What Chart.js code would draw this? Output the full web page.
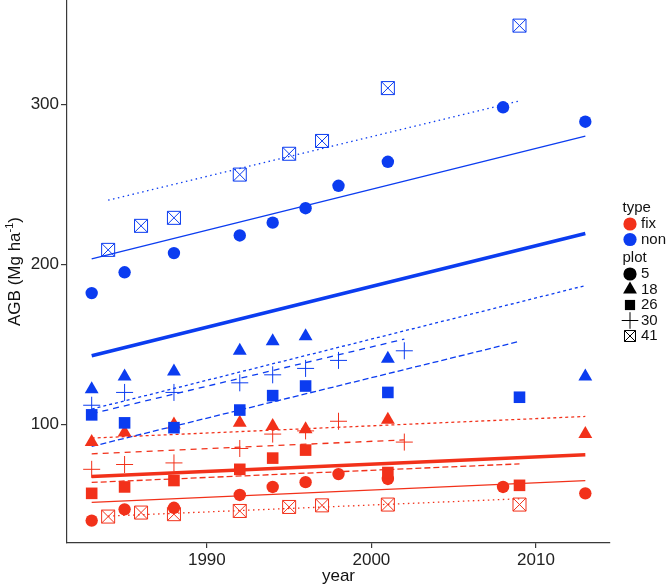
<!DOCTYPE html>
<html>
<head>
<meta charset="utf-8">
<script src="https://cdn.jsdelivr.net/npm/chart.js@4.4.1/dist/chart.umd.min.js"></script>
<style>
  html, body { margin: 0; padding: 0; background: #fff; }
  #wrap { width: 666px; height: 586px; position: relative; }
</style>
</head>
<body>
<div id="wrap"><canvas id="agb"></canvas></div>
<script>
// --- data (year, AGB in Mg/ha) ---
const xTicks = [1990, 2000, 2010];
const yTicks = [100, 200, 300];

// non-fixer plots (blue)
const non5Years = [1983, 1985, 1988, 1992, 1994, 1996, 1998, 2001, 2008, 2013];
const non5 = [182, 195, 207, 218, 226, 235, 249, 264, 298, 289];
const non18Years = [1983, 1985, 1988, 1992, 1994, 1996, 2001, 2013];
const non18 = [122, 130, 133, 146, 152, 155, 141, 130];
const non26Years = [1983, 1985, 1988, 1992, 1994, 1996, 2001, 2009];
const non26 = [106, 101, 98, 109, 118, 124, 120, 117];
const non30Years = [1983, 1985, 1988, 1992, 1994, 1996, 1998, 2002];
const non30 = [112, 120, 120, 126, 131, 135, 140, 146];
const non41Years = [1984, 1986, 1988, 1992, 1995, 1997, 2001, 2009];
const non41 = [209, 224, 229, 256, 269, 277, 310, 349];

// fixer plots (red)
const fix5Years = [1983, 1985, 1988, 1992, 1994, 1996, 1998, 2001, 2008, 2013];
const fix5 = [40, 47, 48, 56, 61, 64, 69, 66, 61, 57];
const fix18Years = [1983, 1985, 1988, 1992, 1994, 1996, 2001, 2013];
const fix18 = [89, 95, 100, 101, 99, 97, 103, 94];
const fix26Years = [1983, 1985, 1988, 1992, 1994, 1996, 2001, 2009];
const fix26 = [57, 61, 65, 72, 79, 84, 70, 62];
const fix30Years = [1983, 1985, 1988, 1992, 1994, 1996, 1998, 2002];
const fix30 = [72, 75, 76, 85, 94, 96, 102, 89];
const fix41Years = [1984, 1986, 1988, 1992, 1995, 1997, 2001, 2009];
const fix41 = [42.5, 45, 44, 46, 48.5, 49.5, 50, 50];

// fitted trend lines (start / end values)
const fitNon5 = [203.4, 280], fitNon5Years = [1983, 2013];
const fitNon18 = [109.6, 186.7], fitNon18Years = [1983, 2013];
const fitNon26 = [86.3, 151.9], fitNon26Years = [1983, 2009];
const fitNon30 = [106.7, 153.3], fitNon30Years = [1983, 2002];
const fitNon41 = [240, 302], fitNon41Years = [1984, 2009];
const fitNonAll = [142.9, 219.2], fitNonAllYears = [1983, 2013];
const fitFix5 = [51.3, 65], fitFix5Years = [1983, 2013];
const fitFix18 = [91.5, 105], fitFix18Years = [1983, 2013];
const fitFix26 = [63.8, 75.4], fitFix26Years = [1983, 2009];
const fitFix30 = [81.7, 90.4], fitFix30Years = [1983, 2002];
const fitFix41 = [42.8, 53.6], fitFix41Years = [1984, 2009];
const fitFixAll = [67.5, 81.1], fitFixAllYears = [1983, 2013];

const RED = "#f2311a";
const BLUE = "#0b3cf0";
const FONT = "'Liberation Sans', Arial, Helvetica, sans-serif";

function pts(xs, ys) {
  return xs.map((x, i) => ({ x, y: ys[i] }));
}

// marker look per plot
const shapes = {
  p5: { style: "circle", r: 6.2, fill: true, bw: 0 },
  p18: { style: "triangle", r: 8, fill: true, bw: 0 },
  p26: { style: "rect", r: 8.2, fill: true, bw: 0 },
  p30: { style: "cross", r: 8.5, fill: false, bw: 1 },
  p41: { style: "rect", r: 9.2, fill: false, bw: 1 },
  p41x: { style: "crossRot", r: 9.2, fill: false, bw: 1 },
};

function marks(years, vals, color, sh) {
  return {
    data: pts(years, vals),
    showLine: false,
    pointStyle: sh.style,
    pointRadius: sh.r,
    pointHoverRadius: sh.r,
    pointBackgroundColor: sh.fill ? color : "rgba(0,0,0,0)",
    pointBorderColor: color,
    pointBorderWidth: sh.bw,
  };
}

function fit(years, vals, color, width, dash) {
  return {
    data: pts(years, vals),
    showLine: true,
    pointRadius: 0,
    borderColor: color,
    borderWidth: width,
    borderDash: dash,
    borderCapStyle: "butt",
  };
}

const dash18 = [3, 3];
const dash26 = [6, 3];
const dash30 = [6, 5];
const dash41 = [1.5, 3.5];

const datasets = [
  // blue markers (drawn on top)
  marks(non26Years, non26, BLUE, shapes.p26),
  marks(non18Years, non18, BLUE, shapes.p18),
  marks(non30Years, non30, BLUE, shapes.p30),
  marks(non5Years, non5, BLUE, shapes.p5),
  marks(non41Years, non41, BLUE, shapes.p41),
  marks(non41Years, non41, BLUE, shapes.p41x),
  // red markers
  marks(fix26Years, fix26, RED, shapes.p26),
  marks(fix18Years, fix18, RED, shapes.p18),
  marks(fix30Years, fix30, RED, shapes.p30),
  marks(fix5Years, fix5, RED, shapes.p5),
  marks(fix41Years, fix41, RED, shapes.p41),
  marks(fix41Years, fix41, RED, shapes.p41x),
  // trend lines
  fit(fitNonAllYears, fitNonAll, BLUE, 3.6, []),
  fit(fitNon5Years, fitNon5, BLUE, 1.3, []),
  fit(fitNon18Years, fitNon18, BLUE, 1.3, dash18),
  fit(fitNon26Years, fitNon26, BLUE, 1.3, dash26),
  fit(fitNon30Years, fitNon30, BLUE, 1.3, dash30),
  fit(fitNon41Years, fitNon41, BLUE, 1.3, dash41),
  fit(fitFixAllYears, fitFixAll, RED, 3.6, []),
  fit(fitFix5Years, fitFix5, RED, 1.3, []),
  fit(fitFix18Years, fitFix18, RED, 1.3, dash18),
  fit(fitFix26Years, fitFix26, RED, 1.3, dash26),
  fit(fitFix30Years, fitFix30, RED, 1.3, dash30),
  fit(fitFix41Years, fitFix41, RED, 1.3, dash41),
];

// axis titles and legend, drawn by hand like ggplot does
const extras = {
  id: "extras",
  afterDraw(chart) {
    const ctx = chart.ctx;
    const area = chart.chartArea;
    ctx.save();
    ctx.fillStyle = "#111";

    // x title
    ctx.font = "17px " + FONT;
    ctx.textAlign = "center";
    ctx.textBaseline = "alphabetic";
    ctx.fillText("year", (area.left + area.right) / 2, 581);

    // y title with superscript
    ctx.save();
    ctx.translate(14, (area.top + area.bottom) / 2);
    ctx.rotate(-Math.PI / 2);
    const a = "AGB (Mg ha", sup = "-1", b = ")";
    ctx.font = "17px " + FONT;
    const wa = ctx.measureText(a).width, wb = ctx.measureText(b).width;
    ctx.font = "11px " + FONT;
    const ws = ctx.measureText(sup).width;
    let x = -(wa + ws + wb) / 2;
    ctx.textAlign = "left";
    ctx.font = "17px " + FONT;
    ctx.fillText(a, x, 6);
    ctx.font = "11px " + FONT;
    ctx.fillText(sup, x + wa, -1);
    ctx.font = "17px " + FONT;
    ctx.fillText(b, x + wa + ws, 6);
    ctx.restore();

    // legend
    const lx = 630, tx = 641;
    ctx.font = "15px " + FONT;
    ctx.textAlign = "left";
    ctx.textBaseline = "middle";
    ctx.fillText("type", 622.5, 208);
    const typeRows = [["fix", RED, 224], ["non", BLUE, 239.5]];
    typeRows.forEach(([t, c, y]) => {
      ctx.fillStyle = c;
      ctx.beginPath();
      ctx.arc(lx, y, 6.6, 0, Math.PI * 2);
      ctx.fill();
      ctx.fillStyle = "#111";
      ctx.fillText(t, tx, y);
    });
    ctx.fillText("plot", 622.5, 258);
    const plotRows = [
      ["5", [{ pointStyle: "circle", radius: 6.6, borderWidth: 0 }], 274],
      ["18", [{ pointStyle: "triangle", radius: 8, borderWidth: 0 }], 289.5],
      ["26", [{ pointStyle: "rect", radius: 7.2, borderWidth: 0 }], 305],
      ["30", [{ pointStyle: "cross", radius: 8.3, borderWidth: 1 }], 320.5],
      ["41", [{ pointStyle: "rect", radius: 7.8, borderWidth: 1, open: true },
              { pointStyle: "crossRot", radius: 7.8, borderWidth: 1 }], 336],
    ];
    plotRows.forEach(([t, syms, y]) => {
      syms.forEach((s) => {
        ctx.fillStyle = s.open ? "rgba(0,0,0,0)" : "#000";
        ctx.strokeStyle = "#000";
        ctx.lineWidth = s.borderWidth;
        Chart.helpers.drawPoint(ctx, s, lx, y);
      });
      ctx.fillStyle = "#111";
      ctx.fillText(t, tx, y);
    });
    ctx.restore();
  },
};

const axisColor = "#3a3a3a";

new Chart(document.getElementById("agb"), {
  type: "scatter",
  data: { datasets },
  options: {
    responsive: true,
    maintainAspectRatio: false,
    animation: false,
    events: [],
    layout: { autoPadding: false, padding: { top: 0, right: 56, bottom: 0, left: 0 } },
    plugins: { legend: { display: false }, tooltip: { enabled: false } },
    scales: {
      x: {
        type: "linear",
        min: 1981.5,
        max: 2014.5,
        afterBuildTicks: (s) => { s.ticks = xTicks.map((v) => ({ value: v })); },
        afterFit: (s) => { s.height = 43; },
        grid: { drawOnChartArea: false, drawTicks: true, tickLength: 5, color: axisColor, lineWidth: 1.2 },
        border: { display: true, color: axisColor, width: 1.2 },
        ticks: { color: "#222", font: { size: 17, family: FONT }, padding: 2, maxRotation: 0, callback: (v) => String(v) },
      },
      y: {
        type: "linear",
        min: 26,
        max: 365,
        afterBuildTicks: (s) => { s.ticks = yTicks.map((v) => ({ value: v })); },
        afterFit: (s) => { s.width = 67; s.paddingTop = 0; s.paddingBottom = 0; },
        grid: { drawOnChartArea: false, drawTicks: true, tickLength: 6, color: axisColor, lineWidth: 1.2 },
        border: { display: true, color: axisColor, width: 1.2 },
        ticks: { color: "#222", font: { size: 17, family: FONT }, padding: 2, callback: (v) => String(v) },
      },
    },
  },
  plugins: [extras],
});
</script>
</body>
</html>
